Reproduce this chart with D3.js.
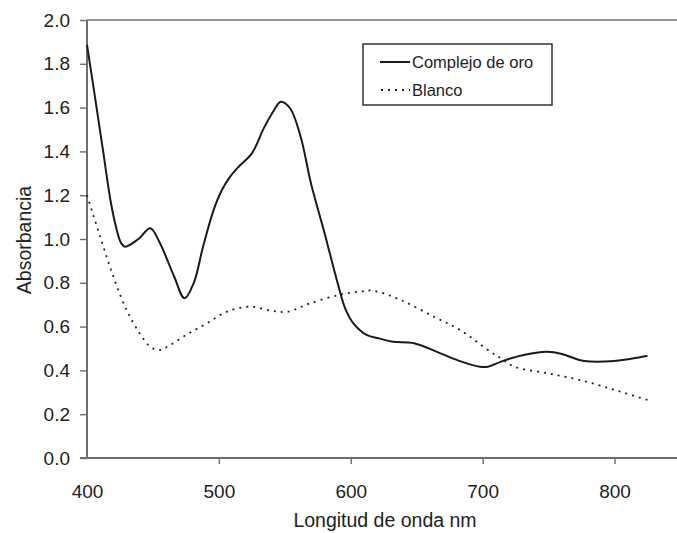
<!DOCTYPE html>
<html><head><meta charset="utf-8">
<script src="https://cdn.jsdelivr.net/npm/d3@7"></script>
<style>body{margin:0;background:#fff}</style>
</head><body>
<svg id="c" width="677" height="533"></svg>
<script>
const xTicks=[400,500,600,700,800];
const yTicks=[0,0.2,0.4,0.6,0.8,1.0,1.2,1.4,1.6,1.8,2.0];
const seriesNames=["Complejo de oro","Blanco"];
const oroNm=[400,406,412,418,422,426,429,439,448,455,466,474,481,488,496,502,508,515,525,534,541,547,554,562,570,580,590,596,602,612,622,632,648,668,684,698,704,714,726,738,749,760,777,800,825];
const oroAbs=[1.886,1.65,1.41,1.17,1.055,0.98,0.965,1.0,1.049,0.985,0.83,0.729,0.80,0.965,1.132,1.22,1.28,1.33,1.391,1.505,1.58,1.627,1.597,1.467,1.25,1.03,0.80,0.68,0.615,0.562,0.545,0.531,0.524,0.478,0.44,0.417,0.417,0.44,0.463,0.478,0.485,0.475,0.443,0.443,0.467];
const blancoNm=[400,410,420,430,440,448,455,463,476,491,506,524,541,552,569,592,607,617,638,663,683,706,714,724,749,774,800,825];
const blancoAbs=[1.2,1.01,0.828,0.676,0.569,0.508,0.493,0.516,0.565,0.615,0.668,0.691,0.671,0.668,0.706,0.746,0.76,0.764,0.721,0.645,0.584,0.485,0.455,0.417,0.387,0.356,0.311,0.265];

const svg=d3.select("#c");
const x=d3.scaleLinear().domain([400,800]).range([87,614.5]);
const y=d3.scaleLinear().domain([0,2]).range([458,20]);
const axisCol="#6e6e6e";
const font="'Liberation Sans', Arial, sans-serif";

svg.append("line").attr("x1",87).attr("x2",677).attr("y1",20).attr("y2",20).attr("stroke",axisCol).attr("stroke-width",1.6);

const gy=svg.append("g").attr("transform","translate(87,0)")
 .call(d3.axisLeft(y).tickValues(yTicks).tickFormat(d3.format(".1f")).tickSize(7).tickPadding(10));
const gx=svg.append("g").attr("transform","translate(0,458)")
 .call(d3.axisBottom(x).tickValues(xTicks).tickFormat(d3.format("d")).tickSize(6).tickPadding(21));
[gx,gy].forEach(g=>{
  g.select(".domain").remove();
  g.selectAll(".tick line").attr("stroke",axisCol).attr("stroke-width",1.4);
  g.selectAll(".tick text").attr("fill","#222").style("font-family",font).style("font-size","19px");
});
gx.selectAll(".tick").filter(d=>d===400).select("line").remove();
svg.append("line").attr("x1",87).attr("x2",87).attr("y1",20).attr("y2",459).attr("stroke",axisCol).attr("stroke-width",2);
svg.append("line").attr("x1",80).attr("x2",677).attr("y1",458).attr("y2",458).attr("stroke",axisCol).attr("stroke-width",2);

const line=d3.line().x(d=>x(d[0])).y(d=>y(d[1])).curve(d3.curveCatmullRom.alpha(0.5));
svg.append("path").datum(blancoNm.map((n,i)=>[n,blancoAbs[i]])).attr("d",line)
 .attr("fill","none").attr("stroke","#222").attr("stroke-width",1.8).attr("stroke-dasharray","2,5");
svg.append("path").datum(oroNm.map((n,i)=>[n,oroAbs[i]])).attr("d",line)
 .attr("fill","none").attr("stroke","#1a1a1a").attr("stroke-width",2);

const lg=svg.append("g");
lg.append("rect").attr("x",363).attr("y",44).attr("width",189).attr("height",61).attr("fill","#fff").attr("stroke","#333").attr("stroke-width",1.5);
lg.append("line").attr("x1",380).attr("x2",410).attr("y1",62).attr("y2",62).attr("stroke","#1a1a1a").attr("stroke-width",2);
lg.append("line").attr("x1",381).attr("x2",410).attr("y1",90).attr("y2",90).attr("stroke","#222").attr("stroke-width",1.8).attr("stroke-dasharray","2,5");
lg.append("text").attr("x",412).attr("y",68).text(seriesNames[0]).attr("fill","#222").style("font-family",font).style("font-size","16.5px");
lg.append("text").attr("x",412).attr("y",96).text(seriesNames[1]).attr("fill","#222").style("font-family",font).style("font-size","16.5px");

svg.append("text").attr("x",385).attr("y",527).attr("text-anchor","middle").text("Longitud de onda nm")
 .attr("fill","#222").style("font-family",font).style("font-size","19.5px");
svg.append("text").attr("transform","translate(31,240) rotate(-90)").attr("text-anchor","middle").text("Absorbancia")
 .attr("fill","#222").style("font-family",font).style("font-size","19.5px");
</script>
</body></html>
